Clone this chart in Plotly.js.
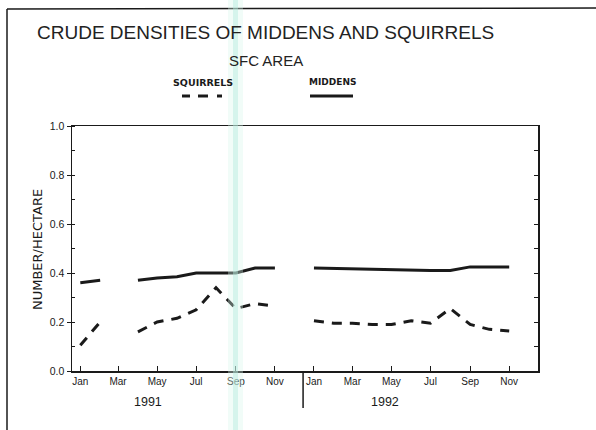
<!DOCTYPE html>
<html>
<head>
<meta charset="utf-8">
<script src="https://cdn.plot.ly/plotly-3.0.1.min.js"></script>
<style>html,body{margin:0;padding:0;background:#fff;}#chart{width:596px;height:430px;}</style>
</head>
<body>
<div id="chart"></div>
<script>
// Months (Jan 1991 .. Nov 1992)
var months = ['1991-01','1991-02','1991-03','1991-04','1991-05','1991-06','1991-07','1991-08','1991-09','1991-10','1991-11','1991-12',
              '1992-01','1992-02','1992-03','1992-04','1992-05','1992-06','1992-07','1992-08','1992-09','1992-10','1992-11'];
// Number per hectare (null = gap)
var squirrels = [0.105,0.20,null,0.16,0.20,0.215,0.25,0.34,0.255,0.275,0.265,null,
                 0.205,0.195,0.195,0.19,0.19,0.205,0.195,0.255,0.19,0.17,0.163];
var middens   = [0.36,0.37,null,0.37,0.38,0.385,0.40,0.40,0.40,0.42,0.42,null,
                 0.42,0.418,0.416,0.415,0.414,0.412,0.41,0.41,0.425,0.425,0.425];
var yearLabels = ['1991','1992'];
var yearCenters = ['1991-04-17','1992-04-21'];
var yearDivider = '1991-12-15';
var titleText = 'CRUDE DENSITIES OF MIDDENS AND SQUIRRELS';
var subtitleText = 'SFC AREA';
var seriesNames = ['SQUIRRELS','MIDDENS'];
var yTitle = 'NUMBER/HECTARE';

// layout helpers: pixel -> paper
var L=72, R=58, T=126, B=59, W=596, H=430;
var PW=W-L-R, PH=H-T-B;
function px(x){return (x-L)/PW;}
function py(y){return (H-B-y)/PH;}

var FONT = '"Liberation Sans", Arial, sans-serif';
var WIDE = '"DejaVu Sans", sans-serif';
var INK = '#1a1a1a';

var traces = [
  {x: months, y: squirrels, name: seriesNames[0], type:'scatter', mode:'lines',
   line:{color:INK, width:3, dash:'10px,8px'}, connectgaps:false, showlegend:false},
  {x: months, y: middens, name: seriesNames[1], type:'scatter', mode:'lines',
   line:{color:INK, width:3}, connectgaps:false, showlegend:false},
  {x: [], y: [], yaxis:'y2', showlegend:false, hoverinfo:'skip'}
];

var ann = [
  {text:titleText, x:px(265), y:py(32), font:{size:19, color:'#222', family:FONT}},
  {text:subtitleText, x:px(266), y:py(60), font:{size:15, color:'#222', family:FONT}},
  {text:'<b>'+seriesNames[0]+'</b>', x:px(203), y:py(82), font:{size:9.5, color:INK, family:WIDE}},
  {text:'<b>'+seriesNames[1]+'</b>', x:px(332), y:py(82), font:{size:9, color:INK, family:WIDE}},
  {text:yTitle, x:px(37), y:py(250), textangle:-90, font:{size:13, color:INK, family:WIDE}}
];
ann = ann.map(function(a){a.xref='paper';a.yref='paper';a.showarrow=false;a.xanchor='center';a.yanchor='middle';return a;});
yearLabels.forEach(function(t,i){
  ann.push({text:t, x:yearCenters[i], xref:'x', y:py(402), yref:'paper', showarrow:false,
            xanchor:'center', yanchor:'middle', font:{size:12.5, color:INK, family:FONT}});
});

var shapes = [
  // year divider
  {type:'line', xref:'x', yref:'paper', x0:yearDivider, x1:yearDivider, y0:0, y1:py(408), line:{color:INK, width:1.5}},
  // legend samples
  {type:'line', xref:'paper', yref:'paper', x0:px(182), x1:px(190), y0:py(96), y1:py(96), line:{color:INK, width:3}},
  {type:'line', xref:'paper', yref:'paper', x0:px(198), x1:px(208), y0:py(96), y1:py(96), line:{color:INK, width:3}},
  {type:'line', xref:'paper', yref:'paper', x0:px(217), x1:px(222), y0:py(96), y1:py(96), line:{color:INK, width:3}},
  {type:'line', xref:'paper', yref:'paper', x0:px(310), x1:px(353), y0:py(96), y1:py(96), line:{color:INK, width:3}},
  // page frame
  {type:'line', xref:'paper', yref:'paper', x0:px(7), x1:px(596), y0:py(9), y1:py(8), line:{color:INK, width:1.5}},
  {type:'line', xref:'paper', yref:'paper', x0:px(7), x1:px(7), y0:py(9), y1:py(430), line:{color:INK, width:1.5}},
  // scan stripe
  {type:'rect', xref:'paper', yref:'paper', x0:px(228), x1:px(243), y0:py(0), y1:py(430), layer:'above',
   fillcolor:'rgba(215,245,236,0.35)', line:{width:0}},
  {type:'rect', xref:'paper', yref:'paper', x0:px(233), x1:px(238), y0:py(0), y1:py(430), layer:'above',
   fillcolor:'rgba(180,235,222,0.45)', line:{width:0}}
];

var layout = {
  width:W, height:H,
  margin:{l:L, r:R, t:T, b:B, pad:0},
  paper_bgcolor:'#fff', plot_bgcolor:'#fff',
  showlegend:false,
  font:{family:FONT, color:INK},
  xaxis:{type:'date', range:['1990-12-19','1992-12-16'], tick0:'1991-01-01', dtick:'M2', tickformat:'%b',
         ticks:'inside', ticklen:5, tickcolor:INK, showline:true, linecolor:INK, linewidth:1.5, mirror:true,
         showgrid:false, zeroline:false, tickfont:{size:10, color:INK, family:FONT}},
  yaxis:{range:[0,1], dtick:0.2, tickformat:'.1f', ticks:'outside', ticklen:4, tickcolor:INK,
         minor:{dtick:0.1, ticks:'inside', ticklen:3, tickcolor:INK},
         showline:true, linecolor:INK, linewidth:1.5, showgrid:false, zeroline:false,
         tickfont:{size:10.5, color:INK, family:FONT}},
  yaxis2:{overlaying:'y', side:'right', range:[0,1], dtick:0.1, ticks:'inside', ticklen:4, tickcolor:INK,
          showticklabels:false, showline:true, linecolor:INK, linewidth:1.5, showgrid:false, zeroline:false},
  annotations:ann,
  shapes:shapes
};

Plotly.newPlot('chart', traces, layout, {staticPlot:true, displayModeBar:false});
</script>
</body>
</html>
